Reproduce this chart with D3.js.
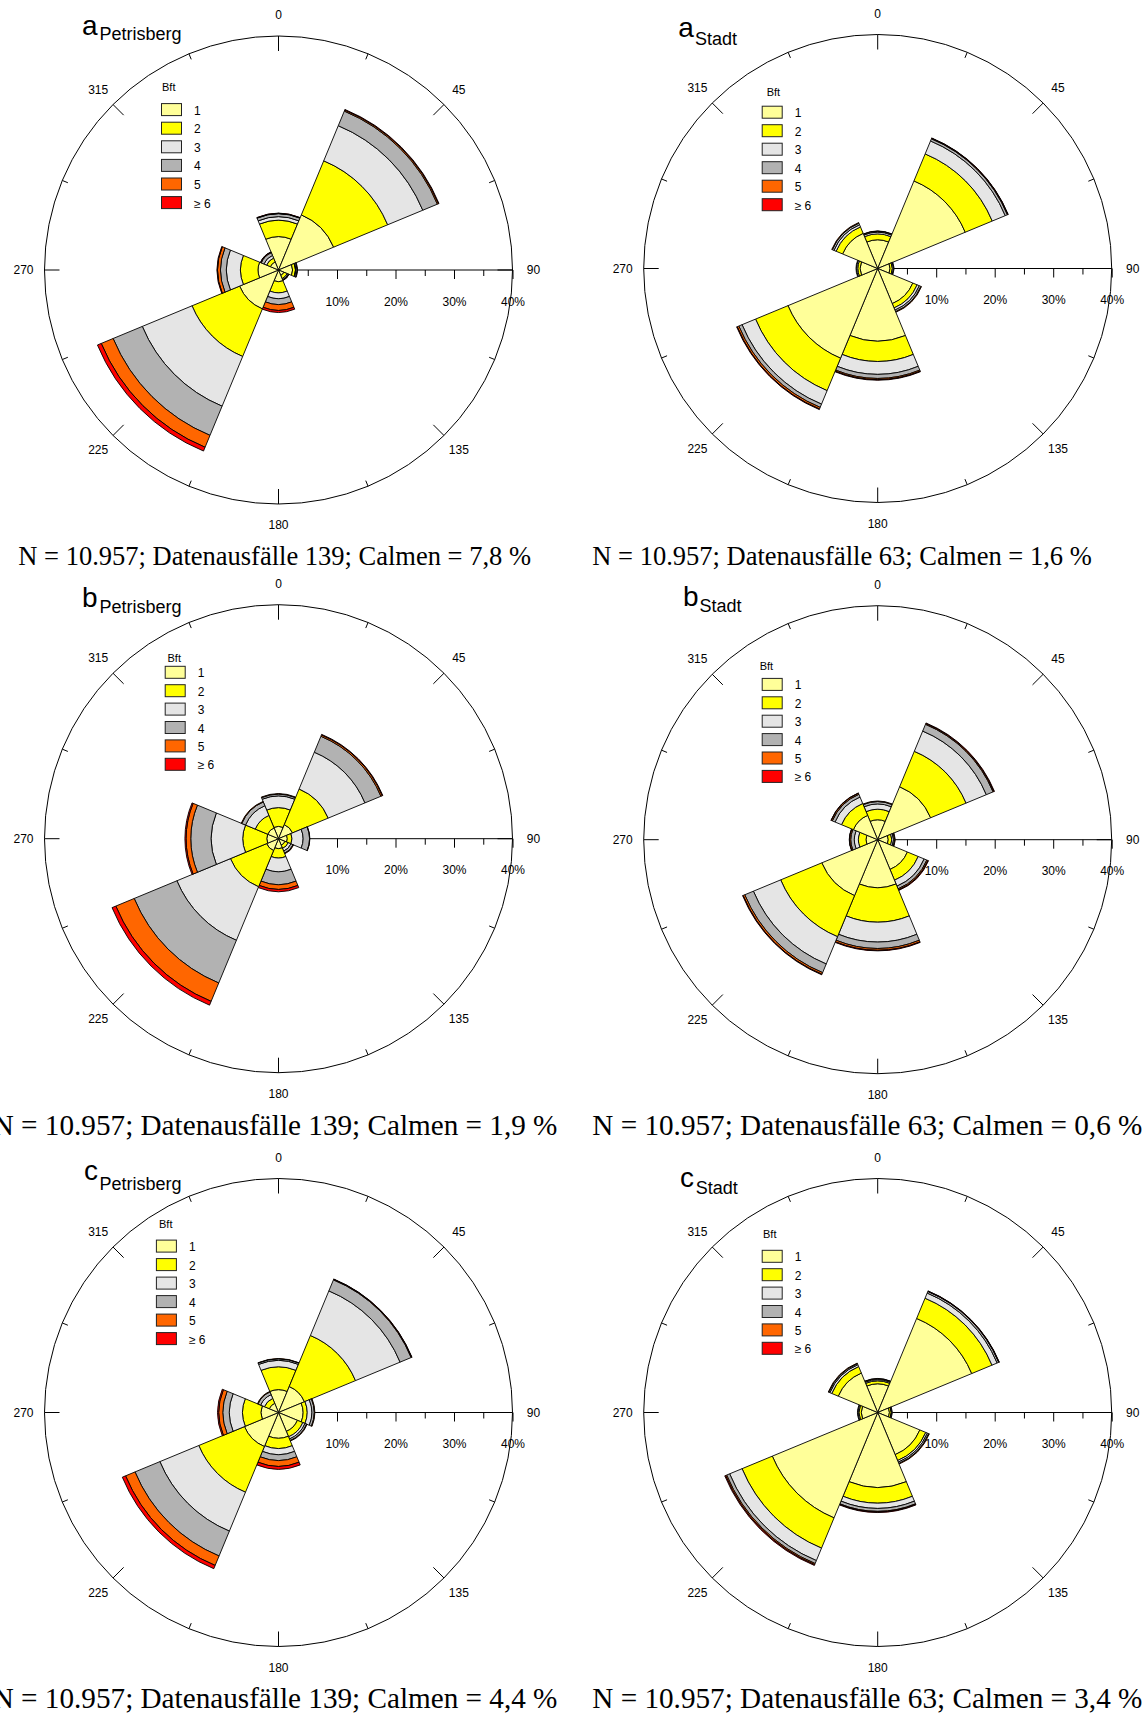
<!DOCTYPE html>
<html>
<head>
<meta charset="utf-8">
<script src="https://d3js.org/d3.v7.min.js"></script>
<style>
  body { margin: 0; background: #fff; }
  svg { display: block; }
</style>
</head>
<body>
<svg id="chart" width="1147" height="1715"></svg>
<script>
  // wind directions (sector centres, 45 degree sectors)
  const directions = [0, 45, 90, 135, 180, 225, 270, 315];
  const bftLabels = ["1", "2", "3", "4", "5", "\u2265 6"];
  const bftColors = ["#ffff99", "#ffff00", "#e5e5e5", "#b2b2b2", "#ff6600", "#ff0000"];
  const compassLabels = [0, 45, 90, 135, 180, 225, 270, 315];
  const minorTicks = [5, 15, 25, 35];
  const majorTicks = [10, 20, 30, 40];

  // frequency in % per Bft class (1..>=6), one row per direction N, NE, E, SE, S, SW, W, NW
  const aPetrisberg = [
    [5.7, 2.8, 0.6, 0.5, 0.05, 0.05],
    [10.2, 10.0, 6.5, 2.7, 0.2, 0.1],
    [2.4, 0.5, 0.1, 0.2, 0.05, 0],
    [1.0, 0.6, 0.2, 0.1, 0.05, 0],
    [2.0, 1.9, 1.0, 1.0, 1.0, 0.35],
    [7.2, 8.8, 9.2, 5.4, 2.2, 0.7],
    [3.5, 3.0, 2.4, 1.0, 0.5, 0.1],
    [1.5, 0.7, 0.5, 0.5, 0.1, 0.05]
  ];
  const aStadt = [
    [4.9, 1.0, 0.3, 0.15, 0.05, 0],
    [16.2, 5.0, 2.4, 0.4, 0.1, 0.05],
    [2.1, 0.4, 0.2, 0.1, 0, 0],
    [6.5, 0.8, 0.4, 0.3, 0.1, 0],
    [12.4, 3.5, 2.2, 0.7, 0.2, 0.1],
    [16.6, 6.0, 2.5, 0.6, 0.3, 0.1],
    [3.0, 0.4, 0.2, 0.1, 0, 0],
    [6.5, 1.2, 0.4, 0.3, 0.1, 0]
  ];
  const bPetrisberg = [
    [2.1, 3.2, 2.0, 0.3, 0.1, 0],
    [2.6, 6.6, 6.8, 2.95, 0.25, 0.1],
    [1.5, 0.8, 1.9, 1.1, 0.05, 0],
    [1.2, 0.6, 0.5, 0.4, 0.1, 0],
    [1.7, 1.6, 2.35, 2.2, 0.8, 0.4],
    [2.2, 6.7, 9.9, 7.9, 3.4, 0.7],
    [2.0, 4.1, 5.4, 3.5, 0.8, 0.2],
    [2.0, 2.3, 1.8, 0.7, 0.1, 0]
  ];
  const bStadt = [
    [3.4, 1.8, 0.9, 0.4, 0.1, 0],
    [9.8, 6.55, 3.75, 1.25, 0.15, 0.1],
    [1.8, 0.6, 0.3, 0.2, 0.1, 0],
    [5.5, 2.0, 1.1, 0.5, 0.2, 0.1],
    [8.2, 5.9, 3.4, 1.1, 0.3, 0.1],
    [10.35, 7.6, 5.05, 1.6, 0.3, 0.1],
    [2.0, 1.3, 0.7, 0.6, 0.2, 0.05],
    [4.5, 2.2, 1.2, 0.5, 0.2, 0.05]
  ];
  const cPetrisberg = [
    [3.9, 3.9, 1.1, 0.25, 0.05, 0],
    [4.8, 9.45, 8.25, 2.05, 0.1, 0.05],
    [4.2, 0.7, 0.8, 0.4, 0.1, 0],
    [3.5, 1.0, 0.4, 0.3, 0.1, 0],
    [4.4, 1.75, 1.05, 1.0, 1.0, 0.5],
    [6.3, 8.45, 7.2, 4.6, 1.75, 0.6],
    [3.0, 3.15, 2.25, 1.1, 0.7, 0.2],
    [1.7, 0.9, 0.7, 0.5, 0.1, 0]
  ];
  const cStadt = [
    [4.9, 0.5, 0.2, 0.15, 0.05, 0],
    [17.4, 3.75, 0.95, 0.3, 0.05, 0.05],
    [2.0, 0.3, 0.1, 0.1, 0, 0],
    [7.8, 1.1, 0.3, 0.25, 0.1, 0],
    [12.8, 2.7, 0.9, 0.5, 0.1, 0.1],
    [19.5, 5.6, 2.3, 0.55, 0.2, 0.15],
    [2.8, 0.4, 0.15, 0.1, 0, 0],
    [7.3, 1.2, 0.35, 0.2, 0.1, 0]
  ];

  const footers = [
    "N = 10.957; Datenausfälle 139; Calmen = 7,8 %",
    "N = 10.957; Datenausfälle 63; Calmen = 1,6 %",
    "N = 10.957; Datenausfälle 139; Calmen = 1,9 %",
    "N = 10.957; Datenausfälle 63; Calmen = 0,6 %",
    "N = 10.957; Datenausfälle 139; Calmen = 4,4 %",
    "N = 10.957; Datenausfälle 63; Calmen = 3,4 %"
  ];

  const panels = [
    {letter: "a", station: "Petrisberg", data: aPetrisberg, cx: 278.5, cy: 270,
     title: [82, 34.7, 99.4, 40.2], leg: [-116.5, -183, -117, -160.4, 18.6, -85],
     foot: [18.3, 565, 26.5, "start"]},
    {letter: "a", station: "Stadt", data: aStadt, cx: 877.7, cy: 268.5,
     title: [678.2, 36.5, 695, 45], leg: [-111, -176.5, -115.5, -156.3, 18.5, -81],
     foot: [592.3, 565, 26.5, "start"]},
    {letter: "b", station: "Petrisberg", data: bPetrisberg, cx: 278.5, cy: 838.7,
     title: [82, 606.5, 99.4, 613], leg: [-111, -181, -113.3, -166.4, 18.4, -81.5],
     foot: [557.4, 1134.7, 29.2, "end"]},
    {letter: "b", station: "Stadt", data: bStadt, cx: 877.7, cy: 839.7,
     title: [683, 605.8, 699.4, 612], leg: [-118, -174, -115.5, -155.3, 18.4, -81],
     foot: [592.3, 1134.7, 29.2, "start"]},
    {letter: "c", station: "Petrisberg", data: cPetrisberg, cx: 278.5, cy: 1412.5,
     title: [84, 1179.5, 99.4, 1190.2], leg: [-119.5, -188.4, -122.1, -166.4, 18.5, -85],
     foot: [557.4, 1707.7, 29.2, "end"]},
    {letter: "c", station: "Stadt", data: cStadt, cx: 877.7, cy: 1412.5,
     title: [680, 1186.9, 695.7, 1194.2], leg: [-114.7, -178.1, -115.5, -156.2, 18.4, -81],
     foot: [592.3, 1707.7, 29.2, "start"]}
  ];

  const svg = d3.select("#chart");
  const sans = "'Liberation Sans', Arial, sans-serif";
  const serif = "'Liberation Serif', 'Times New Roman', serif";
  const R = 234;
  const r = d3.scaleLinear().domain([0, 40]).range([0, R]);
  const rad = d => d * Math.PI / 180;
  const arc = d3.arc();

  function drawRose(p, idx) {
    const g = svg.append("g").attr("transform", `translate(${p.cx},${p.cy})`);

    // outer circle
    g.append("circle").attr("r", R).attr("fill", "none")
      .attr("stroke", "#000").attr("stroke-width", 1);

    // compass ticks every 22.5 deg
    d3.range(0, 360, 22.5).forEach(a => {
      const len = a % 45 === 0 ? 15 : 6;
      g.append("line")
        .attr("x1", R * Math.sin(rad(a))).attr("y1", -R * Math.cos(rad(a)))
        .attr("x2", (R - len) * Math.sin(rad(a))).attr("y2", -(R - len) * Math.cos(rad(a)))
        .attr("stroke", "#000").attr("stroke-width", 1);
    });

    // compass labels
    g.selectAll("text.deg").data(compassLabels).enter().append("text")
      .attr("class", "deg")
      .attr("x", d => 255 * Math.sin(rad(d)))
      .attr("y", d => -255 * Math.cos(rad(d)))
      .attr("text-anchor", "middle").attr("dominant-baseline", "central")
      .style("font-family", sans).style("font-size", "12px")
      .text(d => d);

    // radial axis along 90 deg
    g.append("line").attr("x1", 0).attr("y1", 0).attr("x2", R).attr("y2", 0)
      .attr("stroke", "#000").attr("stroke-width", 1);
    const minorAxis = g.append("g").call(d3.axisBottom(r).tickValues(minorTicks).tickSize(6).tickFormat(""));
    const majorAxis = g.append("g").call(d3.axisBottom(r).tickValues(majorTicks).tickSize(9)
      .tickPadding(18).tickFormat(d => d + "%"));
    [minorAxis, majorAxis].forEach(ax => {
      ax.select(".domain").remove();
      ax.selectAll("line").attr("stroke", "#000");
      ax.selectAll("text").style("font-family", sans).style("font-size", "12px").attr("fill", "#000");
    });

    // stacked sectors
    p.data.forEach((vals, i) => {
      const dir = directions[i];
      const cum = d3.cumsum(vals);
      vals.forEach((v, k) => {
        if (v <= 0) return;
        g.append("path")
          .attr("d", arc({innerRadius: r(cum[k] - v), outerRadius: r(cum[k]),
                          startAngle: rad(dir - 22.5), endAngle: rad(dir + 22.5)}))
          .attr("fill", bftColors[k])
          .attr("stroke", "#000").attr("stroke-width", 0.9)
          .attr("stroke-linejoin", "miter");
      });
    });

    // legend
    const [bx, by, sx, sy, step, lx] = p.leg;
    g.append("text").attr("x", bx).attr("y", by).attr("dominant-baseline", "central")
      .style("font-family", sans).style("font-size", "11px").text("Bft");
    bftLabels.forEach((lab, k) => {
      g.append("rect").attr("x", sx).attr("y", sy + k * step - 6)
        .attr("width", 20).attr("height", 12)
        .attr("fill", bftColors[k]).attr("stroke", "#222").attr("stroke-width", 1);
      g.append("text").attr("x", sx + 20 + 12.5).attr("y", sy + k * step + 1)
        .attr("dominant-baseline", "central")
        .style("font-family", sans).style("font-size", "12px").text(lab);
    });

    // title
    const [tx, ty, sx2, sy2] = p.title;
    svg.append("text").attr("x", tx).attr("y", ty)
      .style("font-family", sans).style("font-size", "28px").text(p.letter);
    svg.append("text").attr("x", sx2).attr("y", sy2)
      .style("font-family", sans).style("font-size", "18px").text(p.station);

    // footer
    const [fx, fy, fs, anchor] = p.foot;
    svg.append("text").attr("x", fx).attr("y", fy).attr("text-anchor", anchor)
      .style("font-family", serif).style("font-size", fs + "px").text(footers[idx]);
  }

  panels.forEach(drawRose);
</script>
</body>
</html>
